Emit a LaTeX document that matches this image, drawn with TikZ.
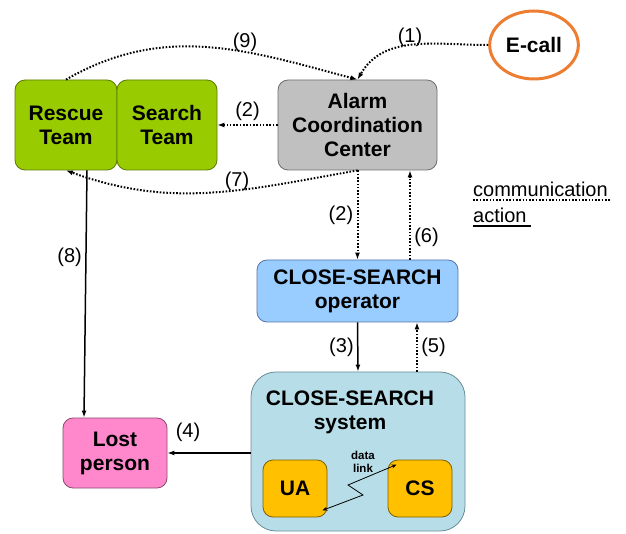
\documentclass[tikz,border=0pt]{standalone}
\usepackage{fontspec}
\setmainfont{Liberation Sans}
\usetikzlibrary{arrows.meta,shapes.geometric}

\definecolor{teamgreen}{HTML}{99CC00}
\definecolor{teamline}{HTML}{5B7A00}
\definecolor{accgray}{HTML}{C0C0C0}
\definecolor{accline}{HTML}{6E6E6E}
\definecolor{opblue}{HTML}{99CCFF}
\definecolor{opline}{HTML}{5577AA}
\definecolor{systeal}{HTML}{B7DEE8}
\definecolor{sysline}{HTML}{6A8C94}
\definecolor{unitgold}{HTML}{FFC000}
\definecolor{unitline}{HTML}{7F6000}
\definecolor{lostpink}{HTML}{FF88CC}
\definecolor{lostline}{HTML}{8C4A70}
\definecolor{ecallorange}{HTML}{ED7D31}

\begin{document}
\begin{tikzpicture}[x=1pt,y=1pt,>={Latex[length=7pt,width=5pt]},
	box/.style={draw, rounded corners=10pt, line width=0.8pt, align=center, inner sep=0pt, font=\fontsize{21}{24}\selectfont\bfseries},
	num/.style={font=\fontsize{20}{22}\selectfont},
	comm/.style={->, line width=2pt, dash pattern=on 1.6pt off 1.7pt},
	act/.style={->, line width=1.5pt}]
	
	\useasboundingbox (0,0) rectangle (626,533);
	
	%Knoten
	\node[box, fill=teamgreen, draw=teamline, minimum width=102pt, minimum height=90pt] (rescue) at (66,408) {Rescue\\Team};
	\node[box, fill=teamgreen, draw=teamline, minimum width=100pt, minimum height=90pt] (search) at (167,408) {Search\\Team};
	\node[box, fill=accgray, draw=accline, minimum width=159pt, minimum height=90pt] (acc) at (357.5,408) {Alarm\\Coordination\\Center};
	\node[ellipse, draw=ecallorange, line width=3pt, minimum width=84pt, minimum height=68pt, font=\fontsize{21}{24}\selectfont\bfseries] (ecall) at (534,488) {E-call};
	\node[box, fill=opblue, draw=opline, minimum width=201pt, minimum height=62pt] (operator) at (357.5,242) {CLOSE-SEARCH\\operator};
	\node[box, fill=systeal, draw=sysline, rounded corners=25pt, minimum width=214pt, minimum height=159pt] (system) at (358,81.5) {};
	\node[align=center, font=\fontsize{21}{24}\selectfont\bfseries] (systitle) at (350,121) {CLOSE-SEARCH\\system};
	\node[box, fill=unitgold, draw=unitline, minimum width=64pt, minimum height=57pt] (ua) at (295,44.5) {UA};
	\node[box, fill=unitgold, draw=unitline, minimum width=64pt, minimum height=57pt] (cs) at (420,44.5) {CS};
	\node[align=center, font=\fontsize{11.5}{13}\selectfont\bfseries] (dlink) at (363,71) {data\\link};
	\node[box, fill=lostpink, draw=lostline, minimum width=104pt, minimum height=70pt] (lost) at (115,80) {Lost\\person};
	
	%Kommunikation
	\draw[comm] (ecall.west) to[out=180,in=60] (acc.north);
	\draw[comm] (rescue.north) to[out=30,in=165] (acc.north);
	\draw[comm] (acc.west) -- node[num, above] {(2)} (search.east);
	\draw[comm] (acc.south) to[out=-170,in=-20] (rescue.south);
	\draw[comm] (acc.south) -- node[num, left] {(2)} (operator.north);
	\draw[comm] ([xshift=52.5pt]operator.north) -- node[num, right, pos=0.25] {(6)} ([xshift=52.5pt]acc.south);
	\draw[comm] ([xshift=59pt]system.north) -- node[num, right] {(5)} ([xshift=59.5pt]operator.south);
	
	\node[num] (l1) at (410,496) {(1)};
	\node[num] (l9) at (245,491) {(9)};
	\node[num] (l7) at (237,352) {(7)};
	
	%Aktionen
	\draw[act] (operator.south) -- node[num, left] {(3)} (system.north);
	\draw[act] ([xshift=21pt]rescue.south) -- node[num, left, pos=0.35] {(8)} ([xshift=-31pt]lost.north);
	\draw[act] (system.west |- lost.east) -- (lost.east);
	\node[num] (l4) at (188,101) {(4)};
	
	%Datenverbindung
	\draw[<->, >={Stealth[length=5pt,width=4pt]}, line width=0.8pt] ([shift={(9,-5)}]cs.north west) -- (348,48) -- (363,38) -- ([shift={(-5,7)}]ua.south east);
	
	%Legende
	\node[num, anchor=base west, inner sep=0pt] (commtxt) at (473,336) {communication};
	\draw[line width=2pt, dash pattern=on 1.6pt off 1.7pt] ([yshift=-3pt]commtxt.base west) -- ([yshift=-3pt,xshift=2pt]commtxt.base east);
	\node[num, anchor=base west, inner sep=0pt] (acttxt) at (473,310) {action};
	\draw[line width=1.2pt] ([yshift=-3pt]acttxt.base west) -- ([yshift=-3pt,xshift=4pt]acttxt.base east);
	
\end{tikzpicture}
\end{document}
